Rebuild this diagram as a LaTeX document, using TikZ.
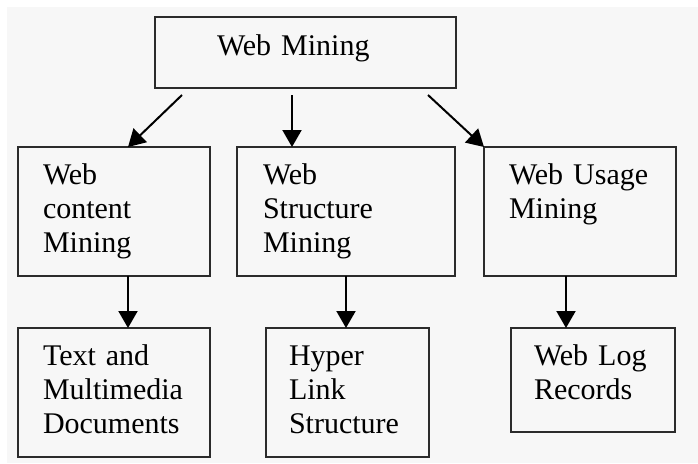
\documentclass[tikz,border=0pt]{standalone}
\usepackage{fontspec}
\setmainfont{Liberation Serif}
\usetikzlibrary{arrows.meta}
\definecolor{paper}{HTML}{F7F7F7}
\definecolor{frame}{HTML}{2B2B2B}

\begin{document}
\begin{tikzpicture}[x=1pt, y=-1pt,
  box/.style={draw=frame, line width=1.8pt, outer sep=0pt, anchor=north west,
              align=left, inner xsep=25pt, inner ysep=0pt, text height=37pt,
              text depth=92pt, font=\fontsize{30}{34}\selectfont},
  arr/.style={-{Triangle[width=19pt, length=17pt]}, line width=2pt},
]
  % page
  \useasboundingbox[fill=white] (0,0) rectangle (698,463);
  \fill[paper] (7,7) rectangle (698,463);

  % top
  \node[box, inner xsep=62pt, text width=177pt, text height=38pt, text depth=33pt]
    (wm) at (155,17) {Web Mining};

  % second row
  \node[box, text width=142pt] (wcm) at (18,147) {Web\\content\\Mining};
  \node[box, inner xsep=26pt, text width=166pt] (wsm) at (237,147) {Web\\Structure\\Mining};
  \node[box, text width=142pt] (wum) at (484,147) {Web Usage\\Mining};

  % third row
  \node[box, text width=142pt] (tmd) at (18,328) {Text and\\Multimedia\\Documents};
  \node[box, inner xsep=23pt, text width=117pt] (hls) at (266,328) {Hyper\\Link\\Structure};
  \node[box, inner xsep=23pt, text width=118pt, text depth=67pt] (wlr) at (511,328) {Web Log\\Records};

  % arrows
  \coordinate (wm-b) at ([shift={(137,7)}]wm.south west);
  \draw[arr] ([shift={(27,7)}]wm.south west) -- ([xshift=14pt]wcm.north);
  \draw[arr] (wm-b) -- (wm-b |- wsm.north);
  \draw[arr] ([shift={(-28,7)}]wm.south east) -- (wum.north west);

  \draw[arr] ([xshift=14pt]wcm.south) -- ([xshift=14pt]tmd.north);
  \draw[arr] (wsm.south) -- (wsm.south |- hls.north);
  \draw[arr] ([xshift=-14pt]wum.south) -- ([xshift=-14pt]wum.south |- wlr.north);
\end{tikzpicture}
\end{document}
